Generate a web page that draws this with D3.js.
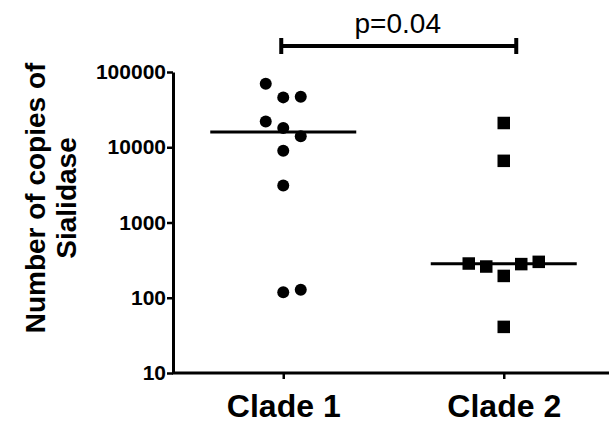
<!DOCTYPE html>
<html>
<head>
<meta charset="utf-8">
<script src="https://cdn.jsdelivr.net/npm/d3@7"></script>
<style>
  html, body { margin: 0; padding: 0; background: #fff; }
  svg { display: block; }
</style>
</head>
<body>
<svg id="chart" width="609" height="426"></svg>
<script>
// ---- data ----
const categories = ["Clade 1", "Clade 2"];
const clade1Values = [70000, 46000, 47000, 22000, 18000, 14000, 9000, 3100, 118, 128];
const clade2Values = [21000, 6600, 285, 260, 280, 300, 195, 41];
// horizontal scatter slot (column) of each point, as drawn in the reference
const clade1Slots = [-1, 0, 1, -1, 0, 1, 0, 0, 0, 1];
const clade2Slots = [0, 0, -2, -1, 1, 2, 0, 0];
const yTickValues = [10, 100, 1000, 10000, 100000];
const yTitleLines = ["Number of copies of", "Sialidase"];
const pLabel = "p=0.04";

const font = "Arial, 'Liberation Sans', Helvetica, sans-serif";
const svg = d3.select("#chart");

const y = d3.scaleLog().domain([10, 100000]).range([373, 72]);
const x = d3.scalePoint().domain(categories).range([173, 614]).padding(0.5);
const slotW = 17.5;

// ---- axes ----
const yAxis = svg.append("g")
  .attr("transform", "translate(173,0)")
  .call(d3.axisLeft(y).tickValues(yTickValues).tickFormat(d3.format("d")).tickSize(6).tickPadding(1).tickSizeOuter(0));
yAxis.select(".domain").attr("stroke", "#000").attr("stroke-width", 3);
yAxis.selectAll(".tick line").attr("stroke", "#000").attr("stroke-width", 2.5);
yAxis.selectAll(".tick text")
  .attr("fill", "#000")
  .style("font-family", font).style("font-weight", "bold").style("font-size", "21px");

const xAxis = svg.append("g")
  .attr("transform", "translate(0,373)")
  .call(d3.axisBottom(x).tickSize(6).tickSizeOuter(0));
xAxis.select(".domain").remove();
xAxis.append("line").attr("x1", 172).attr("x2", 609).attr("y1", 0).attr("y2", 0)
  .attr("stroke", "#000").attr("stroke-width", 3);
xAxis.selectAll(".tick line").attr("stroke", "#000").attr("stroke-width", 2.5);
xAxis.selectAll(".tick text")
  .attr("fill", "#000").attr("y", 44).attr("dy", 0)
  .style("font-family", font).style("font-weight", "bold").style("font-size", "32px");

// ---- y title ----
const yTitle = svg.append("text")
  .attr("transform", "rotate(-90)")
  .attr("text-anchor", "middle")
  .attr("fill", "#000")
  .style("font-family", font).style("font-weight", "bold").style("font-size", "28px");
yTitle.selectAll("tspan").data(yTitleLines).join("tspan")
  .attr("x", -198)
  .attr("y", (d, i) => 45 + i * 31)
  .text(d => d);

// ---- points ----
const groups = [
  { cat: categories[0], values: clade1Values, slots: clade1Slots, shape: "circle" },
  { cat: categories[1], values: clade2Values, slots: clade2Slots, shape: "square" }
];

groups.forEach(g => {
  const pts = g.values.map((v, i) => ({ v, s: g.slots[i] }));
  const cx = x(g.cat);
  if (g.shape === "circle") {
    svg.append("g").selectAll("circle").data(pts).join("circle")
      .attr("cx", d => cx + d.s * slotW)
      .attr("cy", d => y(d.v))
      .attr("r", 6)
      .attr("fill", "#000");
  } else {
    const sz = 12.5;
    svg.append("g").selectAll("rect").data(pts).join("rect")
      .attr("x", d => cx + d.s * slotW - sz / 2)
      .attr("y", d => y(d.v) - sz / 2)
      .attr("width", sz).attr("height", sz)
      .attr("fill", "#000");
  }
  const med = d3.median(g.values);
  svg.append("line")
    .attr("x1", cx - 73).attr("x2", cx + 73)
    .attr("y1", y(med)).attr("y2", y(med))
    .attr("stroke", "#000").attr("stroke-width", 3);
});

// ---- significance bracket ----
const bx1 = x(categories[0]) - 2, bx2 = x(categories[1]) + 12.5, by = 46;
const br = svg.append("g").attr("stroke", "#000").attr("stroke-width", 4);
br.append("line").attr("x1", bx1).attr("x2", bx2).attr("y1", by).attr("y2", by);
br.append("line").attr("x1", bx1).attr("x2", bx1).attr("y1", by - 8).attr("y2", by + 8);
br.append("line").attr("x1", bx2).attr("x2", bx2).attr("y1", by - 8).attr("y2", by + 8);
svg.append("text")
  .attr("x", (bx1 + bx2) / 2 - 1).attr("y", 33)
  .attr("text-anchor", "middle").attr("fill", "#000")
  .style("font-family", font).style("font-size", "28px")
  .text(pLabel);
</script>
</body>
</html>
